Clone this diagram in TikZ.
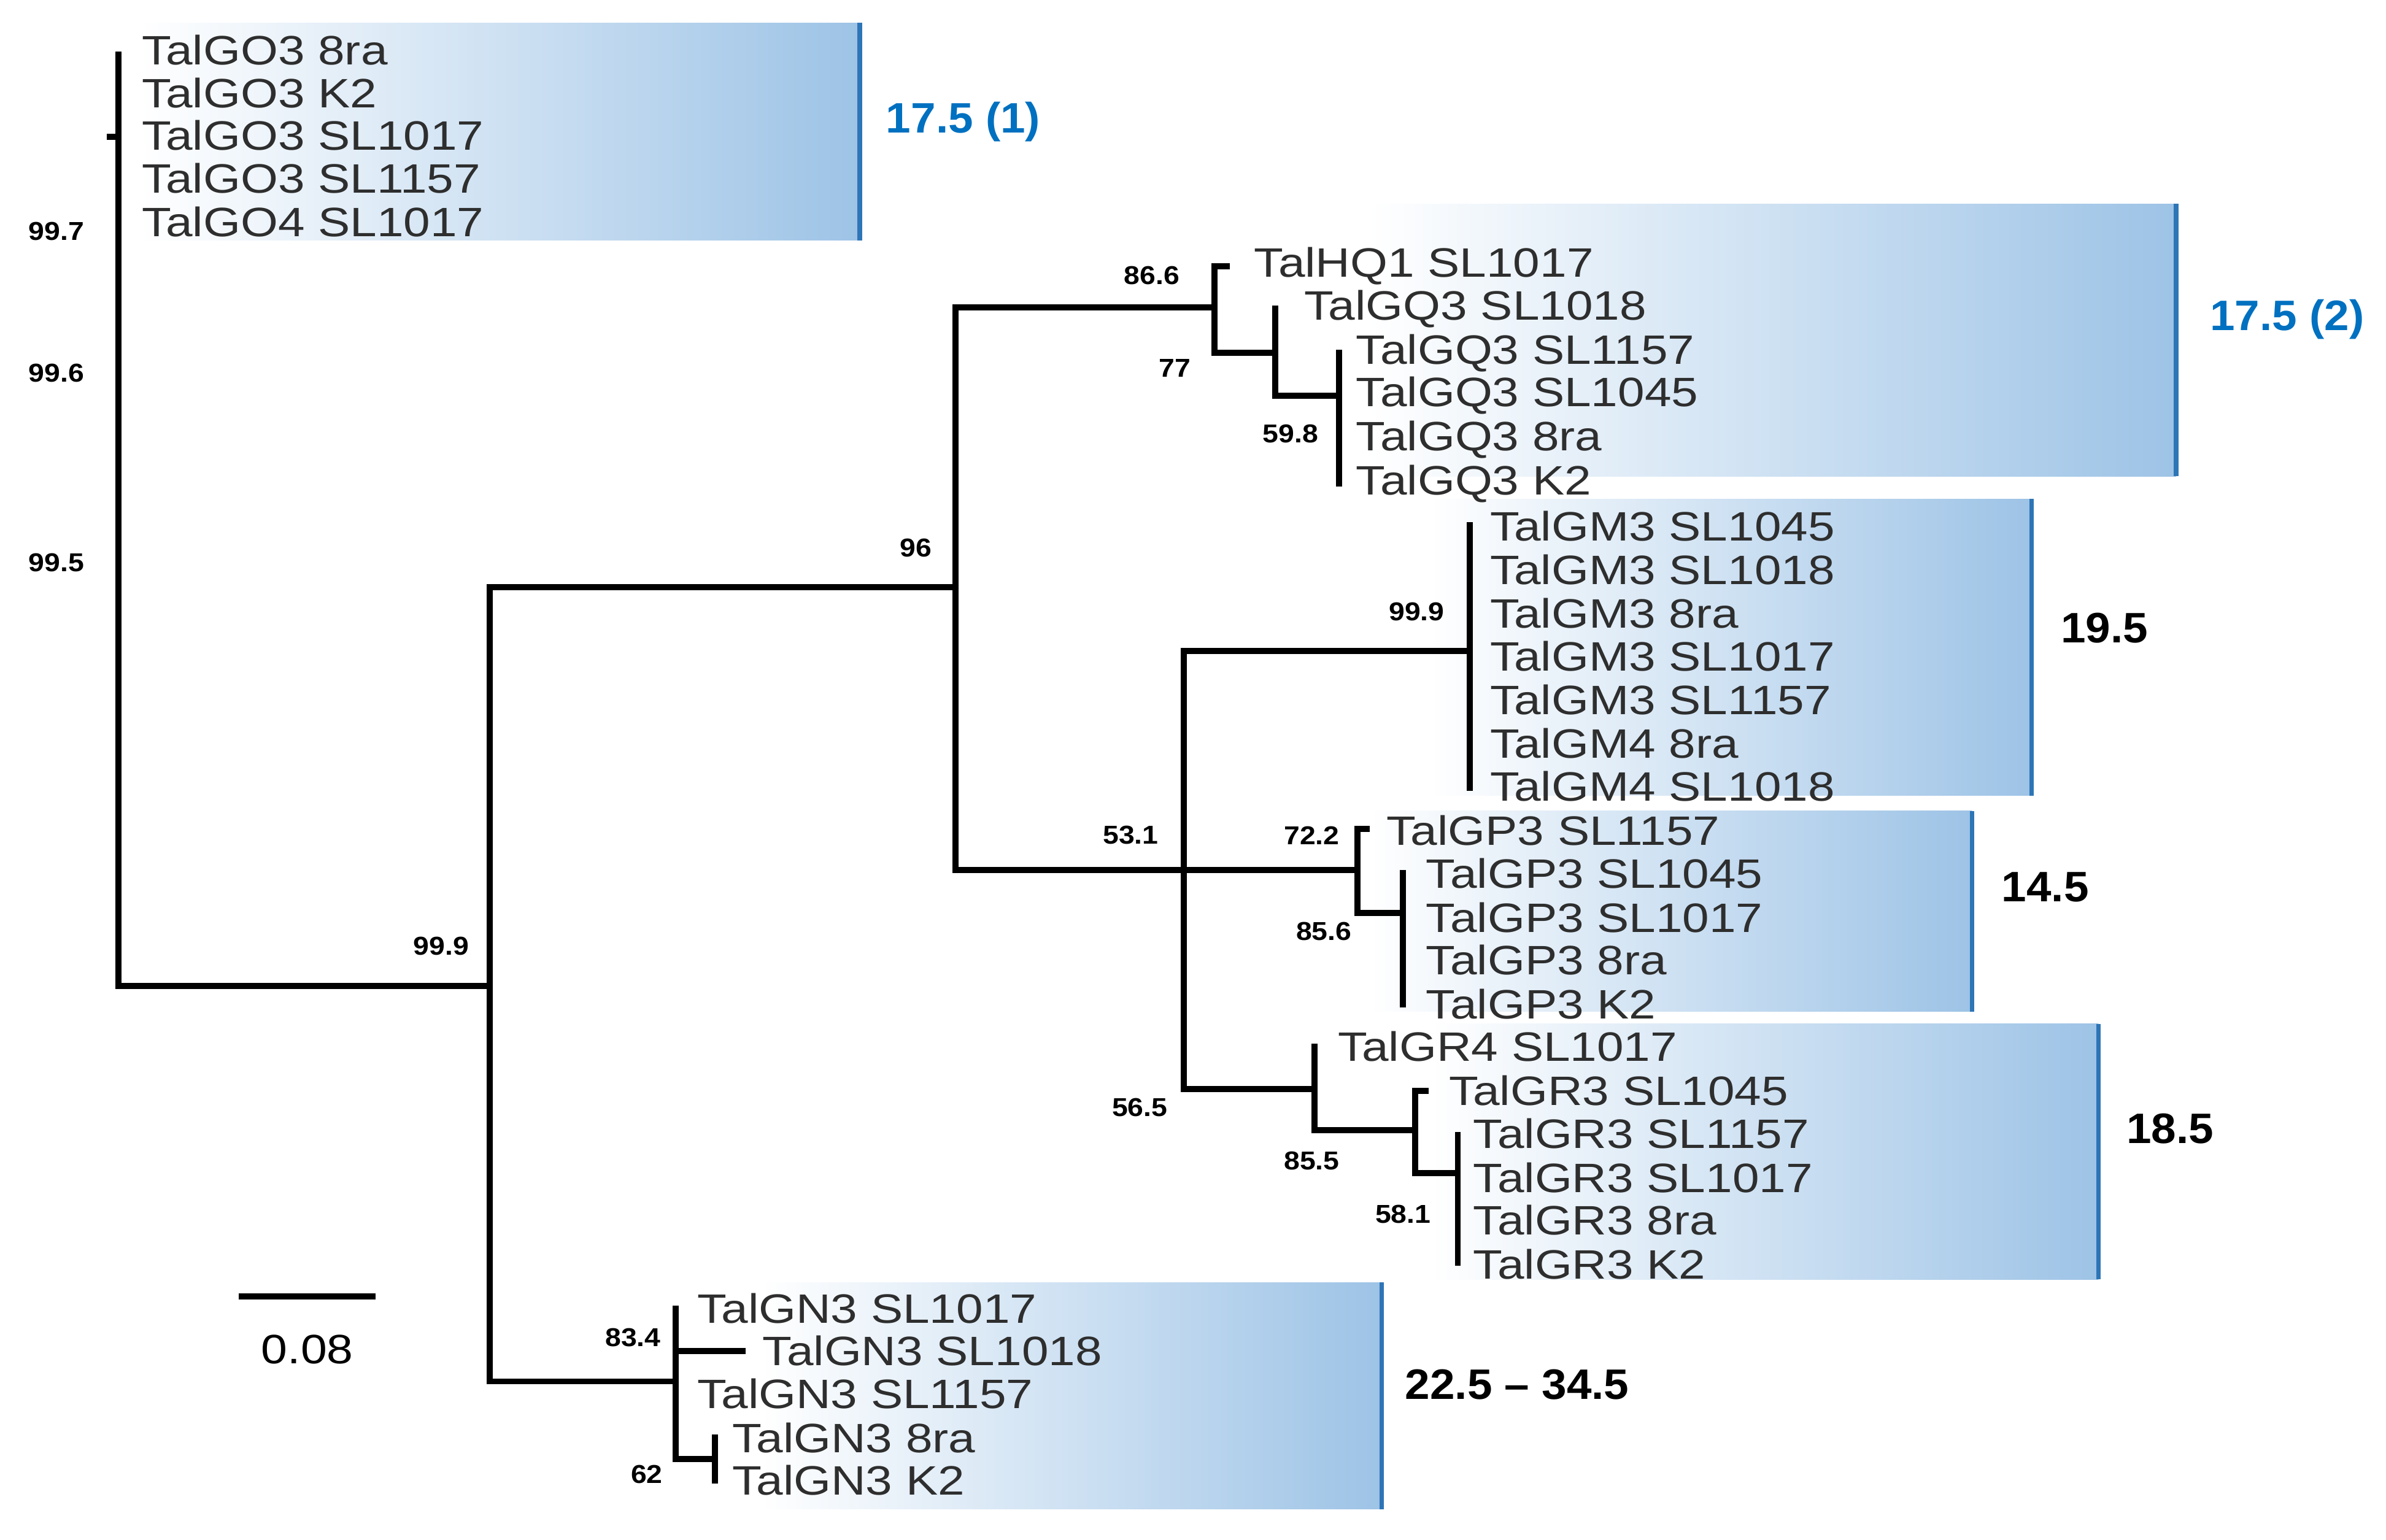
\documentclass[tikz,border=0pt]{standalone}
\usepackage{fontspec}
\setmainfont{Liberation Sans}
\begin{document}
\begin{tikzpicture}[x=1pt,y=-1pt,
 br/.style={line width=4pt,line cap=rect},
 lab/.style={anchor=west,inner sep=0pt,font=\fontsize{27}{27}\selectfont,text=black!82,xscale=1.17},
 bs/.style={inner sep=0pt,font=\fontsize{17}{17}\selectfont\bfseries,xscale=1.1},
 num/.style={inner sep=0pt,font=\fontsize{28}{28}\selectfont\bfseries,xscale=1.05},
 bar/.style={line width=3pt,draw={rgb,255:red,46;green,117;blue,182}}]
\definecolor{bl}{RGB}{0,112,192}
\definecolor{gb}{RGB}{157,195,230}
\useasboundingbox (0,0) rectangle (1568,1012);
% gradient boxes
\foreach \a/\b/\c/\d in {92/15/565/158, 900/134/1430/313, 940/328/1335/523, 900/533/1296/665, 940/673/1379/841, 500/843/908/992}{
 \shade[left color=white,right color=gb] (\a,\b) rectangle (\c,\d);
 \draw[bar] (\c,\b) -- (\c,\d);}
% coordinates
\coordinate (r) at (78,648);
\coordinate (go) at (78,90);
\coordinate (a) at (322,648);
\coordinate (b) at (628,386);
\coordinate (q) at (798,202);
\coordinate (q2) at (838,232);
\coordinate (q3) at (880,260);
\coordinate (c) at (778,572);
\coordinate (m) at (966,428);
\coordinate (p) at (892,572);
\coordinate (p2) at (922,600);
\coordinate (g) at (864,716);
\coordinate (g2) at (930,743);
\coordinate (g3) at (958,771);
\coordinate (n) at (444,908);
\coordinate (n2) at (470,959);
% labels
\node[lab] (l1) at (93,33) {TalGO3 8ra};
\node[lab] (l2) at (93,61) {TalGO3 K2};
\node[lab] (l3) at (93,89) {TalGO3 SL1017};
\node[lab] (l4) at (93,117) {TalGO3 SL1157};
\node[lab] (l5) at (93,146) {TalGO4 SL1017};
\node[lab] (h1) at (824,175) {TalHQ1 SL1017};
\node[lab] (h2) at (857,203) {TalGQ3 SL1018};
\node[lab] (h3) at (891,232) {TalGQ3 SL1157};
\node[lab] (h4) at (891,260) {TalGQ3 SL1045};
\node[lab] (h5) at (891,289) {TalGQ3 8ra};
\node[lab] (h6) at (891,318) {TalGQ3 K2};
\foreach \t [count=\i] in {TalGM3 SL1045,TalGM3 SL1018,TalGM3 8ra,TalGM3 SL1017,TalGM3 SL1157,TalGM4 8ra,TalGM4 SL1018}
 \node[lab] (m\i) at (979,{346+28.5*(\i-1)}) {\t};
\node[lab] (p1) at (911,546) {TalGP3 SL1157};
\node[lab] (p2l) at (937,574) {TalGP3 SL1045};
\node[lab] (p3l) at (937,603) {TalGP3 SL1017};
\node[lab] (p4l) at (937,631) {TalGP3 8ra};
\node[lab] (p5l) at (937,660) {TalGP3 K2};
\node[lab] (r1) at (879,688) {TalGR4 SL1017};
\node[lab] (r2) at (952,717) {TalGR3 SL1045};
\node[lab] (r3) at (968,745) {TalGR3 SL1157};
\node[lab] (r4) at (968,774) {TalGR3 SL1017};
\node[lab] (r5) at (968,802) {TalGR3 8ra};
\node[lab] (r6) at (968,831) {TalGR3 K2};
\node[lab] (n1) at (458,860) {TalGN3 SL1017};
\node[lab] (n2l) at (501,888) {TalGN3 SL1018};
\node[lab] (n3l) at (458,916) {TalGN3 SL1157};
\node[lab] (n4l) at (481,945) {TalGN3 8ra};
\node[lab] (n5l) at (481,973) {TalGN3 K2};
% branches
\draw[br] (78,36) -- (78,648) -- (a);
\draw[br] (72,90) -- (78,90);
\draw[br] (322,386) -- (322,908) -- (n);
\draw[br] (a |- b) -- (b);
\draw[br] (628,202) -- (628,572) -- (c);
\draw[br] (b |- q) -- (q);
\draw[br] (798,175) -- (798,232) -- (q2);
\draw[br] (798,175) -- (806,175);
\draw[br] (838,203) -- (838,260) -- (q3);
\draw[br] (880,232) -- (880,318);
\draw[br] (778,428) -- (778,716) -- (g);
\draw[br] (c |- m) -- (m);
\draw[br] (966,345) -- (966,518);
\draw[br] (c) -- (p);
\draw[br] (892,545) -- (892,600) -- (p2);
\draw[br] (892,545) -- (898,545);
\draw[br] (922,574) -- (922,660);
\draw[br] (864,688) -- (864,743) -- (g2);
\draw[br] (930,717) -- (930,771) -- (g3);
\draw[br] (930,717) -- (937,717);
\draw[br] (958,746) -- (958,830);
\draw[br] (444,860) -- (444,959) -- (n2);
\draw[br] (444,888) -- (488,888);
\draw[br] (470,945) -- (470,973);
% scale bar
\draw[br] (159,852) coordinate (s1) -- (245,852) coordinate (s2);
\node[inner sep=0pt,font=\fontsize{27}{27}\selectfont,xscale=1.15] (sl) at (202,887) {0.08};
% bootstrap
\node[bs] at (37,152) {99.7};
\node[bs] at (37,245) {99.6};
\node[bs] at (37,370) {99.5};
\node[bs] at (290,622) {99.9};
\node[bs] at (602,360) {96};
\node[bs] at (757,181) {86.6};
\node[bs] at (772,242) {77};
\node[bs] at (848,285) {59.8};
\node[bs] at (743,549) {53.1};
\node[bs] at (931,402) {99.9};
\node[bs] at (862,549) {72.2};
\node[bs] at (870,612) {85.6};
\node[bs] at (749,728) {56.5};
\node[bs] at (862,763) {85.5};
\node[bs] at (922,798) {58.1};
\node[bs] at (416,879) {83.4};
\node[bs] at (425,969) {62};
% clade numbers
\node[num,text=bl] at (633,80) {17.5 (1)};
\node[num,text=bl] at (1503,210) {17.5 (2)};
\node[num] at (1383,413) {19.5};
\node[num] at (1344,583) {14.5};
\node[num] at (1426,742) {18.5};
\node[num] at (997,910) {22.5 – 34.5};
\end{tikzpicture}
\end{document}
